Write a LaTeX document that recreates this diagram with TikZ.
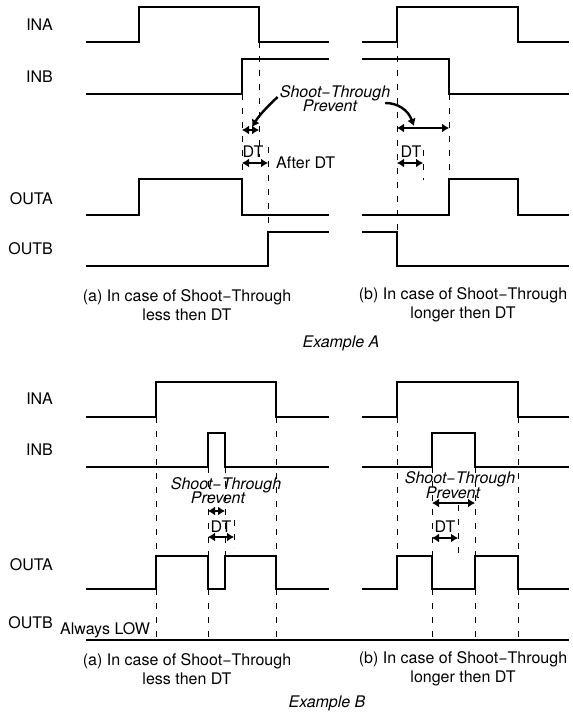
\documentclass[tikz,border=0pt]{standalone}
\usepackage{fontspec}
\setmainfont{TeX Gyre Heros}
\usetikzlibrary{arrows.meta}
\begin{document}
\begin{tikzpicture}[x=1pt,y=-1pt,
  wave/.style={line width=2.5pt, line join=miter},
  guide/.style={line width=1pt, dash pattern=on 6pt off 8pt},
  dim/.style={line width=2.4pt, {Latex[length=7pt,width=9pt]}-{Latex[length=7pt,width=9pt]}},
  pointer/.style={line width=2.4pt, -{Latex[length=7pt,width=9pt]}},
  lbl/.style={font=\fontsize{16}{18.5}\selectfont, inner sep=0pt},
  sig/.style={lbl, anchor=east},
  itl/.style={inner sep=0pt, font=\fontsize{16}{18}\selectfont\itshape}
]
\useasboundingbox (0,0) rectangle (572,719);

% ---------------- Example A ----------------
% guides
\draw[guide] (259,42) -- (259,157);
\draw[guide] (242,94) -- (242,179);
\draw[guide] (268,147) -- (268,233);
\draw[guide] (397,42) -- (397,232);
\draw[guide] (449,94) -- (449,179);
\draw[guide] (423,150) -- (423,180);

% waveforms
\draw[wave] (86,42) -- (139,42) -- (139,7) -- (259,7) -- (259,42) -- (329,42);
\draw[wave] (362,42) -- (397,42) -- (397,7) -- (518,7) -- (518,42) -- (569,42);
\draw[wave] (86,94) -- (242,94) -- (242,59) -- (329,59);
\draw[wave] (362,59) -- (449,59) -- (449,94) -- (569,94);
\draw[wave] (86,215) -- (139,215) -- (139,179) -- (242,179) -- (242,215) -- (329,215);
\draw[wave] (362,215) -- (449,215) -- (449,179) -- (518,179) -- (518,215) -- (569,215);
\draw[wave] (86,266) -- (268,266) -- (268,232) -- (329,232);
\draw[wave] (362,232) -- (397,232) -- (397,266) -- (569,266);

% signal labels
\node[sig] (ina1) at (53,25) {INA};
\node[sig] (inb1) at (53,77) {INB};
\node[sig] (outa1) at (53,199) {OUTA};
\node[sig] (outb1) at (53,249) {OUTB};

% annotations
\node[itl] (st1) at (335,93) {Shoot−Through};
\node[itl] (pv1) at (330,106) {Prevent};
\coordinate (aL1) at (242,130);
\coordinate (aL2) at (259,130);
\coordinate (aR1) at (397,128);
\coordinate (aR2) at (449,128);
\draw[dim] (aL1) -- (aL2);
\draw[dim] (aR1) -- (aR2);
\coordinate (pL) at (252,127);
\coordinate (pR) at (414,126);
\draw[pointer] (st1.west) ++(-2,4) .. controls (270,104) and (260,114) .. (pL);
\draw[pointer] (pv1.east) ++(28,-3) .. controls (398,103) and (408,110) .. (pR);

\node[lbl] (dt1) at (253,152) {DT};
\coordinate (dL1) at (242,163);
\coordinate (dL2) at (268,163);
\draw[dim] (dL1) -- (dL2);
\node[lbl, anchor=west] (after) at (276,163) {After DT};
\node[lbl] (dt2) at (411,152) {DT};
\coordinate (dR1) at (397,163);
\coordinate (dR2) at (423,163);
\draw[dim] (dR1) -- (dR2);

\node[lbl, align=center] (capa1) at (187,305) {(a) In case of Shoot−Through\\less then DT};
\node[lbl, align=center] (capb1) at (463,305) {(b) In case of Shoot−Through\\longer then DT};
\node[itl] (exa) at (341,343) {Example A};

% ---------------- Example B ----------------
% guides
\draw[guide] (156,417) -- (156,556);
\draw[guide] (156,589) -- (156,640);
\draw[guide] (276,417) -- (276,556);
\draw[guide] (276,589) -- (276,640);
\draw[guide] (208,467) -- (208,556);
\draw[guide] (208,589) -- (208,640);
\draw[guide] (225,467) -- (225,556);
\draw[guide] (234,520) -- (234,548);
\draw[guide] (397,417) -- (397,556);
\draw[guide] (518,417) -- (518,556);
\draw[guide] (518,589) -- (518,640);
\draw[guide] (432,467) -- (432,556);
\draw[guide] (432,589) -- (432,640);
\draw[guide] (475,467) -- (475,556);
\draw[guide] (475,589) -- (475,640);
\draw[guide] (458,505) -- (458,553);

% waveforms
\draw[wave] (86,417) -- (156,417) -- (156,382) -- (276,382) -- (276,417) -- (329,417);
\draw[wave] (362,417) -- (397,417) -- (397,382) -- (518,382) -- (518,417) -- (569,417);
\draw[wave] (86,467) -- (208,467) -- (208,433) -- (225,433) -- (225,467) -- (329,467);
\draw[wave] (362,467) -- (432,467) -- (432,433) -- (475,433) -- (475,467) -- (569,467);
\draw[wave] (86,589) -- (156,589) -- (156,556) -- (208,556) -- (208,589) -- (225,589) -- (225,556) -- (276,556) -- (276,589) -- (329,589);
\draw[wave] (362,589) -- (397,589) -- (397,556) -- (432,556) -- (432,589) -- (475,589) -- (475,556) -- (518,556) -- (518,589) -- (569,589);
\draw[wave] (86,640) -- (569,640);

% signal labels
\node[sig] (ina2) at (53,399) {INA};
\node[sig] (inb2) at (53,450) {INB};
\node[sig] (outa2) at (53,565) {OUTA};
\node[sig] (outb2) at (53,623) {OUTB};
\node[lbl, anchor=west] (low) at (60,630) {Always LOW};

% annotations left
\node[itl] (st2) at (226,485) {Shoot−Through};
\node[itl] (pv2) at (218,498) {Prevent};
\coordinate (bL1) at (208,511);
\coordinate (bL2) at (225,511);
\draw[dim] (bL1) -- (bL2);
\node[lbl] (dt3) at (221,527) {DT};
\coordinate (cL1) at (208,537);
\coordinate (cL2) at (234,537);
\draw[dim] (cL1) -- (cL2);

% annotations right
\node[itl] (st3) at (460,479) {Shoot−Through};
\node[itl] (pv3) at (453,493) {Prevent};
\coordinate (bR1) at (432,503);
\coordinate (bR2) at (475,503);
\draw[dim] (bR1) -- (bR2);
\node[lbl] (dt4) at (445,527) {DT};
\coordinate (cR1) at (432,538);
\coordinate (cR2) at (458,538);
\draw[dim] (cR1) -- (cR2);

\node[lbl, align=center] (capa2) at (187,669) {(a) In case of Shoot−Through\\less then DT};
\node[lbl, align=center] (capb2) at (463,669) {(b) In case of Shoot−Through\\longer then DT};
\node[itl] (exb) at (327,703) {Example B};
\end{tikzpicture}
\end{document}
